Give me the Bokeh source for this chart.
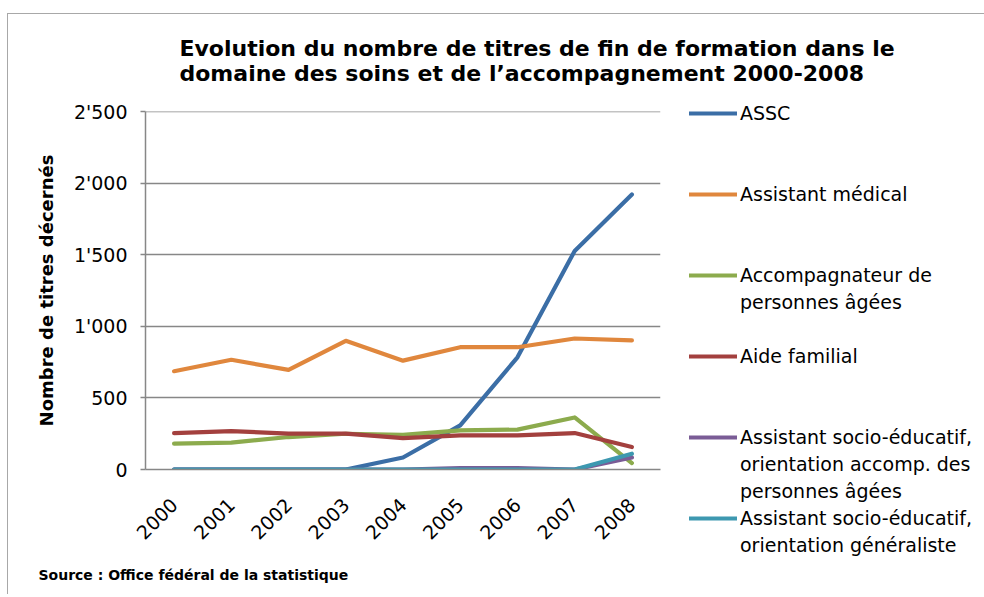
from bokeh.plotting import figure
from bokeh.models import Legend, LegendItem, Title, FactorRange, Range1d, FixedTicker
from bokeh.embed import file_html
from bokeh.resources import INLINE

# ---- data ----
years = ["2000", "2001", "2002", "2003", "2004", "2005", "2006", "2007", "2008"]
assc = [0, 0, 0, 0, 84, 308, 784, 1528, 1923]
assistant_medical = [687, 767, 697, 900, 761, 855, 855, 916, 903]
accompagnateur = [181, 188, 227, 250, 242, 273, 279, 364, 45]
aide_familial = [254, 268, 251, 251, 220, 239, 239, 255, 157]
socio_personnes_agees = [0, 0, 0, 0, 0, 10, 10, 0, 84]
socio_generaliste = [0, 0, 0, 0, 0, 0, 0, 0, 110]

series_names = [
    "ASSC",
    "Assistant médical",
    "Accompagnateur de\npersonnes âgées",
    "Aide familial",
    "Assistant socio-éducatif,\norientation accomp. des\npersonnes âgées",
    "Assistant socio-éducatif,\norientation généraliste",
]
series_values = [assc, assistant_medical, accompagnateur, aide_familial,
                 socio_personnes_agees, socio_generaliste]
series_colors = ["#3b6ea6", "#e0873d", "#8cab4d", "#a3403e", "#7a5c96", "#3d98b0"]

y_ticks = [0, 500, 1000, 1500, 2000, 2500]
y_tick_labels = ["0", "500", "1'000", "1'500", "2'000", "2'500"]

title_text = ("Evolution du nombre de titres de fin de formation dans le\n"
              "domaine des soins et de l\u2019accompagnement 2000-2008")
source_text = "Source : Office fédéral de la statistique"
y_label = "Nombre de titres décernés"

FONT = "DejaVu Sans"
GRID = "#878787"


def set_padding(t, top=0, bottom=0):
    for val in (dict(left=0, right=0, top=top, bottom=bottom), (top, 0, bottom, 0)):
        try:
            t.padding = val
            return True
        except Exception:
            pass
    return False


p = figure(
    x_range=FactorRange(factors=years, range_padding=0),
    y_range=Range1d(0, 2503),
    frame_width=515, frame_height=358, title=None,
    output_backend="svg", toolbar_location=None,
    min_border_left=137, min_border_right=316,
    min_border_top=97, min_border_bottom=125,
)
p.styles = {"border-top": "1px solid #a8a8a8", "border-left": "1px solid #a8a8a8",
            "margin-top": "13px", "margin-left": "7px"}
p.outline_line_color = None
p.background_fill_color = "white"
p.border_fill_color = "white"

renderers = []
for vals, col in zip(series_values, series_colors):
    r = p.line(years, vals, line_width=4.2, line_color=col,
               line_cap="round", line_join="round")
    renderers.append(r)

# invisible renderer used for the continuation / spacer rows of the legend
blank = p.line(x=[], y=[], line_alpha=0)

# axes
p.yaxis.ticker = FixedTicker(ticks=y_ticks)
p.yaxis.major_label_overrides = {t: l for t, l in zip(y_ticks, y_tick_labels)}
p.yaxis.axis_line_color = GRID
p.yaxis.axis_line_width = 1.5
p.yaxis.major_tick_line_color = GRID
p.yaxis.major_tick_line_width = 1.5
p.yaxis.major_tick_in = 0
p.yaxis.major_tick_out = 5
p.yaxis.minor_tick_line_color = None
p.yaxis.major_label_standoff = 13
p.yaxis.major_label_text_font = FONT
p.yaxis.major_label_text_font_size = "19px"
p.yaxis.major_label_text_color = "black"
p.yaxis.axis_label = y_label
p.yaxis.axis_label_text_font = FONT
p.yaxis.axis_label_text_font_size = "18px"
p.yaxis.axis_label_text_font_style = "bold"
p.yaxis.axis_label_text_color = "black"
p.yaxis.axis_label_standoff = 14

p.xaxis.axis_line_color = GRID
p.xaxis.axis_line_width = 1.5
p.xaxis.major_tick_line_color = None
p.xaxis.minor_tick_line_color = None
p.xaxis.major_label_orientation = 0.785398
p.xaxis.major_label_text_font = FONT
p.xaxis.major_label_text_font_size = "19px"
p.xaxis.major_label_text_color = "black"
p.xaxis.major_label_standoff = 26

p.xgrid.grid_line_color = None
p.ygrid.grid_line_color = GRID
p.ygrid.grid_line_width = 1.5

# legend: one row per text line, three rows per series
ROWS_PER_SERIES = 3
items = []
for i, (name, r) in enumerate(zip(series_names, renderers)):
    lines = name.split("\n")
    for j, line in enumerate(lines):
        items.append(LegendItem(label=line, renderers=[r if j == 0 else blank]))
    if i < len(series_names) - 1:
        for _ in range(ROWS_PER_SERIES - len(lines)):
            items.append(LegendItem(label=" ", renderers=[blank]))

legend = Legend(
    items=items,
    location=(29, -89),
    padding=0, margin=0, spacing=0,
    border_line_color=None, background_fill_alpha=0,
    glyph_width=48, glyph_height=20, label_standoff=3,
    label_text_font=FONT, label_text_font_size="19px", label_text_color="black",
    label_height=27,
)
p.add_layout(legend, "right")

title = Title(text=title_text, align="left", offset=34, standoff=0,
              text_font=FONT, text_font_size="22px", text_font_style="bold",
              text_color="black", text_line_height=1.0)
set_padding(title, top=0, bottom=26)
p.add_layout(title, "above")

source = Title(text=source_text, align="left", offset=-107, standoff=0,
               text_font=FONT, text_font_size="14px", text_font_style="bold",
               text_color="black")
set_padding(source, top=16, bottom=0)
p.add_layout(source, "below")

open("out.html", "w").write(file_html(p, INLINE))
